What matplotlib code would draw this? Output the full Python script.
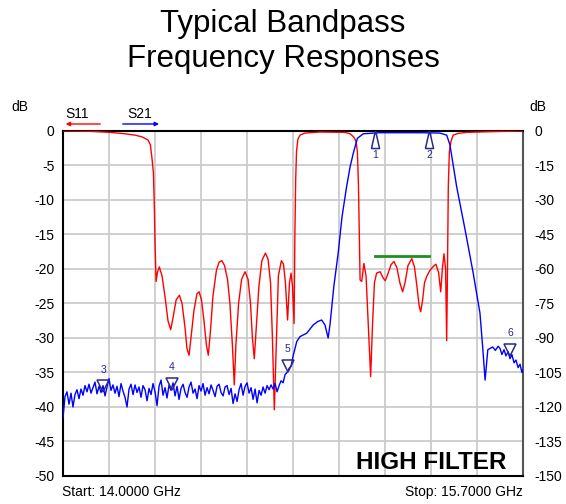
import numpy as np
import matplotlib
matplotlib.use("Agg")
import matplotlib.pyplot as plt
from matplotlib.ticker import MultipleLocator

plt.rcParams['font.family'] = ['Liberation Sans', 'DejaVu Sans']

# S11 (red) trace, GHz / dB
s11_f = [14.000, 14.100, 14.174, 14.229, 14.266, 14.292, 14.314, 14.323, 14.329, 14.334,
         14.337, 14.340, 14.344, 14.349, 14.356, 14.366, 14.377, 14.388, 14.398, 14.407,
         14.418, 14.430, 14.440, 14.451, 14.458, 14.466, 14.473, 14.484, 14.495, 14.503,
         14.512, 14.521, 14.530, 14.537, 14.545, 14.554, 14.567, 14.577, 14.587, 14.597,
         14.608, 14.617, 14.626, 14.633, 14.639, 14.649, 14.660, 14.673, 14.684, 14.693,
         14.700, 14.707, 14.715, 14.724, 14.735, 14.748, 14.758, 14.767, 14.774, 14.781,
         14.789, 14.796, 14.807, 14.815, 14.822, 14.830, 14.837, 14.843, 14.848, 14.854,
         14.857, 14.860, 14.863, 14.868, 14.876, 14.894, 14.950, 15.042, 15.061, 15.075,
         15.083, 15.088, 15.092, 15.095, 15.098, 15.104, 15.112, 15.120, 15.127, 15.137,
         15.144, 15.151, 15.159, 15.172, 15.183, 15.191, 15.201, 15.212, 15.223, 15.234,
         15.245, 15.255, 15.264, 15.275, 15.289, 15.299, 15.308, 15.316, 15.322, 15.329,
         15.336, 15.344, 15.356, 15.367, 15.378, 15.388, 15.396, 15.402, 15.408, 15.414,
         15.418, 15.421, 15.424, 15.428, 15.434, 15.442, 15.460, 15.492, 15.578, 15.700]
s11_db = [0.0, -0.05, -0.2, -0.4, -0.6, -0.85, -1.3, -2.0, -4.0, -6.0,
          -10.0, -16.0, -21.8, -20.5, -19.7, -21.0, -24.0, -27.5, -28.8, -27.0,
          -24.5, -23.8, -25.0, -28.5, -31.5, -32.5, -30.0, -26.0, -23.6, -23.3,
          -24.5, -27.5, -31.0, -32.5, -29.0, -24.0, -20.2, -19.0, -18.8, -19.5,
          -21.5, -25.0, -31.0, -36.8, -31.0, -25.0, -21.5, -20.4, -21.5, -25.0,
          -30.0, -33.0, -28.0, -22.5, -18.8, -17.7, -18.6, -22.0, -30.0, -40.4,
          -30.0, -21.0, -18.8, -19.3, -22.0, -27.4, -22.0, -20.6, -22.5, -27.9,
          -15.0, -7.0, -3.0, -1.2, -0.6, -0.3, -0.15, -0.2, -0.4, -0.9,
          -1.5, -3.0, -8.0, -15.0, -21.6, -21.8, -19.2, -21.0, -27.0, -35.6,
          -28.0, -22.0, -20.6, -20.4, -21.3, -21.7, -20.7, -19.4, -18.9, -19.8,
          -22.0, -23.3, -22.0, -19.5, -18.5, -19.7, -22.5, -25.3, -26.2, -24.5,
          -22.0, -21.1, -20.2, -19.7, -19.3, -20.5, -23.3, -20.0, -17.8, -20.0,
          -30.4, -20.0, -8.0, -3.0, -1.5, -0.6, -0.35, -0.2, -0.1, 0.0]

# S21 (blue) stopband floor, swept 14.000 .. 14.843 GHz
s21_floor_db = [-41.6, -38.5, -37.8, -39.6, -38.0, -40.0, -38.2, -37.5, -38.8, -37.4,
                -38.3, -36.9, -37.8, -36.7, -38.0, -37.2, -36.4, -38.1, -37.0, -37.9,
                -36.9, -38.4, -37.1, -35.9, -37.6, -36.8, -38.0, -37.0, -38.5, -36.6,
                -37.7, -38.6, -40.0, -37.4, -36.7, -38.2, -36.8, -37.9, -37.1, -38.6,
                -36.9, -37.5, -39.1, -37.3, -38.2, -36.6, -37.8, -39.8, -37.0, -36.1,
                -38.3, -37.2, -38.7, -36.8, -37.6, -36.5, -38.4, -37.0, -38.9, -37.3,
                -36.7, -37.9, -38.6, -37.1, -36.4, -38.0, -37.4, -38.8, -36.9, -37.7,
                -36.6, -38.3, -37.2, -38.1, -36.8, -37.6, -38.5, -37.0, -36.7, -37.9,
                -38.4, -37.1, -36.9, -38.2, -37.3, -39.5, -38.1, -39.2, -37.5, -36.6,
                -38.3, -37.0, -36.5, -38.0, -37.2, -38.9, -37.4, -39.4, -37.6, -38.3,
                -37.1, -38.0, -36.9, -37.5, -36.8, -37.4, -36.6, -37.8, -36.9, -36.2,
                -36.5, -35.3, -35.0, -34.4, -34.1]
s21_floor_f = np.linspace(14.000, 14.843, len(s21_floor_db))

# S21 passband and upper skirt
s21_f = [14.850, 14.864, 14.876, 14.901, 14.925, 14.942, 14.956, 14.968, 14.980, 14.987,
         15.001, 15.017, 15.031, 15.048, 15.061, 15.073, 15.088, 15.110, 15.172, 15.319,
         15.393, 15.418, 15.430, 15.455, 15.486, 15.516, 15.541, 15.551, 15.560, 15.570,
         15.588, 15.598, 15.608, 15.615, 15.622, 15.630, 15.637, 15.645, 15.652, 15.659,
         15.667, 15.674, 15.682, 15.689, 15.696, 15.700]
s21_db = [-32.7, -30.5, -29.8, -29.3, -28.1, -27.6, -27.4, -28.1, -30.0, -28.0,
          -22.5, -17.7, -12.5, -8.1, -5.2, -3.2, -1.06, -0.4, -0.25, -0.25,
          -0.3, -0.6, -2.0, -8.1, -14.3, -20.6, -26.4, -31.3, -36.1, -31.7,
          -31.3, -31.8, -31.2, -31.5, -32.4, -31.7, -32.6, -32.0, -33.0, -32.4,
          -33.6, -33.2, -34.3, -33.8, -35.0, -34.6]

# markers
mk_up_f = [15.153, 15.354]
mk_up_lbl = ['1', '2']
mk_dn_f = [14.148, 14.403, 14.830, 15.652]
mk_dn_db = [-37.0, -36.6, -34.0, -31.7]
mk_dn_lbl = ['3', '4', '5', '6']

spec_f = [15.153, 15.354]
spec_db = -18.1

f_start, f_stop = 14.0, 15.7

fig = plt.figure(figsize=(5.66, 5.04), dpi=100)
ax = fig.add_axes([0.1113, 0.0556, 0.8127, 0.6845])

ax.plot(s11_f, s11_db, color='#ff0000', lw=1.0, zorder=3)
ax.plot(np.concatenate([s21_floor_f, s21_f]), s21_floor_db + s21_db,
        color='#0000ff', lw=1.0, zorder=4)
ax.plot(spec_f, [spec_db, spec_db], color='#1f8f1f', lw=2, zorder=5)

navy = '#2a2a8a'
tri_up = [(-0.45, -1), (0.45, -1), (0, 1), (-0.45, -1)]
for f, lbl in zip(mk_up_f, mk_up_lbl):
    ax.plot(f, -1.2, marker=tri_up, ms=13, mfc='white', mec=navy, mew=1.1, zorder=6)
    ax.text(f, -3.5, lbl, color=navy, fontsize=7.5, ha='center', va='center', zorder=6)
for f, d, lbl in zip(mk_dn_f, mk_dn_db, mk_dn_lbl):
    ax.plot(f, d, marker='v', ms=8.5, mfc='none', mec=navy, mew=1.1, zorder=6)
    ax.text(f, d + 2.4, lbl, color=navy, fontsize=7.5, ha='center', va='center', zorder=6)

ax.set_xlim(f_start, f_stop)
ax.set_ylim(-50, 0)
ax.set_xticks(np.linspace(f_start, f_stop, 11))
ax.yaxis.set_major_locator(MultipleLocator(5))
ax.grid(True, color='#cccccc', lw=1.3)
ax.set_axisbelow(True)
ax.tick_params(axis='x', length=0, labelbottom=False)
ax.tick_params(axis='y', length=0, pad=6, labelsize=10)
ax.set_yticklabels([str(int(v)) for v in ax.get_yticks()])
for s in ['left', 'top', 'bottom']:
    ax.spines[s].set_linewidth(1.5)
ax.spines['right'].set_color('#555555')
ax.spines['right'].set_linewidth(1.5)

ax2 = ax.twinx()
ax2.set_ylim(-150, 0)
ax2.yaxis.set_major_locator(MultipleLocator(15))
ax2.tick_params(axis='y', length=0, pad=8, labelsize=10)
ax2.set_yticklabels([str(int(v)) for v in ax2.get_yticks()])
for s in ax2.spines.values():
    s.set_visible(False)

ax.text(0.963, 0.038, 'HIGH FILTER', transform=ax.transAxes, ha='right', va='center',
        fontsize=17.5, fontweight='bold', zorder=7)

fig.text(0.5, 0.917, 'Typical Bandpass\nFrequency Responses', ha='center', va='center',
         fontsize=22.5, linespacing=1.22)
fig.text(0.035, 0.788, 'dB', ha='center', va='center', fontsize=10)
fig.text(0.951, 0.788, 'dB', ha='center', va='center', fontsize=10)
fig.text(0.136, 0.773, 'S11', ha='center', va='center', fontsize=10)
fig.text(0.247, 0.773, 'S21', ha='center', va='center', fontsize=10)
fig.add_artist(matplotlib.patches.FancyArrowPatch((0.182, 0.754), (0.111, 0.754),
               transform=fig.transFigure, arrowstyle='-|>', mutation_scale=6,
               color='#ff0000', lw=1))
fig.add_artist(matplotlib.patches.FancyArrowPatch((0.212, 0.754), (0.286, 0.754),
               transform=fig.transFigure, arrowstyle='-|>', mutation_scale=6,
               color='#0000ff', lw=1))
fig.text(0.11, 0.024, 'Start: 14.0000 GHz', ha='left', va='center', fontsize=10)
fig.text(0.924, 0.024, 'Stop: 15.7000 GHz', ha='right', va='center', fontsize=10)

fig.savefig('out.png', dpi=100)
